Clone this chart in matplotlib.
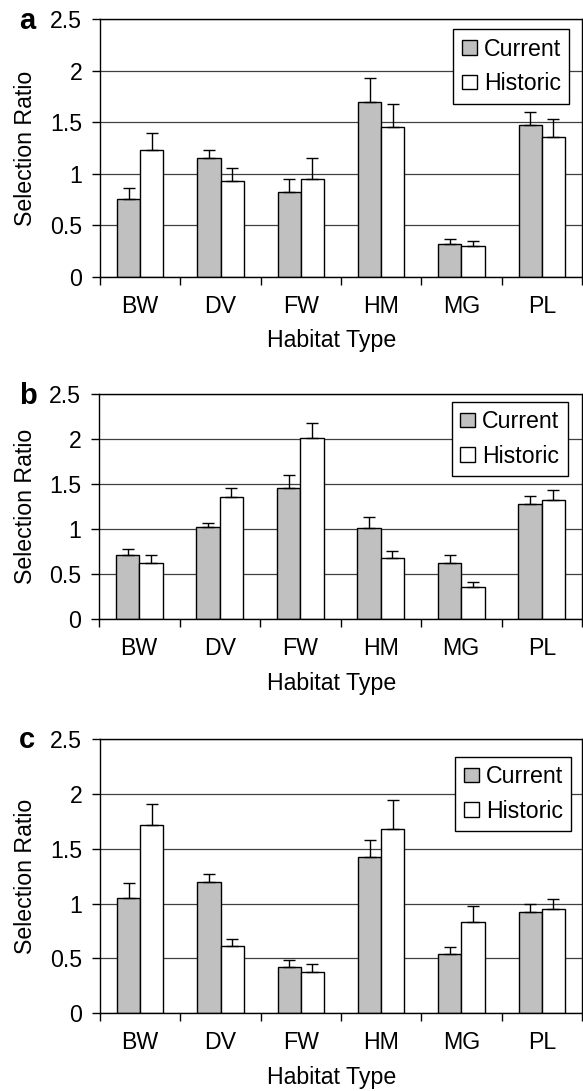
import matplotlib
matplotlib.use('Agg')
import matplotlib.pyplot as plt
import numpy as np

plt.rcParams['font.family'] = ['Liberation Sans', 'DejaVu Sans']

# Data
categories = ['BW', 'DV', 'FW', 'HM', 'MG', 'PL']
y_ticks = [0, 0.5, 1, 1.5, 2, 2.5]
y_tick_labels = ['0', '0.5', '1', '1.5', '2', '2.5']

a_current = [0.76, 1.15, 0.82, 1.70, 0.32, 1.47]
a_current_err = [0.10, 0.08, 0.13, 0.23, 0.05, 0.13]
a_historic = [1.23, 0.93, 0.95, 1.46, 0.30, 1.36]
a_historic_err = [0.17, 0.13, 0.20, 0.22, 0.05, 0.17]

b_current = [0.71, 1.03, 1.46, 1.01, 0.63, 1.28]
b_current_err = [0.07, 0.04, 0.14, 0.13, 0.08, 0.09]
b_historic = [0.63, 1.36, 2.01, 0.68, 0.36, 1.33]
b_historic_err = [0.08, 0.10, 0.17, 0.08, 0.05, 0.11]

c_current = [1.05, 1.20, 0.42, 1.42, 0.54, 0.92]
c_current_err = [0.14, 0.07, 0.07, 0.16, 0.06, 0.08]
c_historic = [1.72, 0.61, 0.38, 1.68, 0.83, 0.95]
c_historic_err = [0.19, 0.07, 0.07, 0.26, 0.15, 0.09]

W, H = 583, 1091
fig = plt.figure(figsize=(W / 100, H / 100), dpi=100)

# panel letter, data, axes box in pixels (left, top, right, bottom), legend anchor
panels = [
    ('a', a_current, a_current_err, a_historic, a_historic_err, (100, 19.3, 582, 277), (0.974, 0.961)),
    ('b', b_current, b_current_err, b_historic, b_historic_err, (99, 394.3, 582, 619.3), (0.970, 0.966)),
    ('c', c_current, c_current_err, c_historic, c_historic_err, (100, 739, 582, 1013.3), (0.978, 0.935)),
]

fs = 16.7
x = np.arange(len(categories))
bw = 0.29

for letter, cur, cur_err, hist, hist_err, box, leg_anchor in panels:
    l, t, r, b = box
    ax = fig.add_axes([l / W, 1 - b / H, (r - l) / W, (b - t) / H])

    ax.set_axisbelow(True)
    ax.yaxis.grid(True, color='0.25', linewidth=0.9)

    ax.bar(x - bw / 2, cur, bw, color='#c0c0c0', edgecolor='black', linewidth=1.0,
           label='Current', zorder=2)
    ax.bar(x + bw / 2, hist, bw, color='white', edgecolor='black', linewidth=1.0,
           label='Historic', zorder=2)
    ax.errorbar(x - bw / 2, cur, yerr=[np.zeros(len(cur)), cur_err], fmt='none',
                ecolor='black', elinewidth=1.0, capsize=4, capthick=1.0, zorder=3)
    ax.errorbar(x + bw / 2, hist, yerr=[np.zeros(len(hist)), hist_err], fmt='none',
                ecolor='black', elinewidth=1.0, capsize=4, capthick=1.0, zorder=3)

    ax.set_xlim(-0.5, len(categories) - 0.5)
    ax.set_ylim(0, 2.5)
    ax.set_yticks(y_ticks)
    ax.set_yticklabels(y_tick_labels, fontsize=fs)
    ax.tick_params(axis='y', direction='out', length=5.8, width=1.0, pad=7)

    ax.set_xticks(x)
    ax.set_xticklabels(categories, fontsize=fs)
    ax.tick_params(axis='x', which='major', length=0, pad=13)
    ax.set_xticks(np.arange(-0.5, len(categories)), minor=True)
    ax.tick_params(axis='x', which='minor', direction='out', length=5.5, width=1.0)

    for s in ax.spines.values():
        s.set_linewidth(1.0)
        s.set_color('black')

    leg = ax.legend(loc='upper right', bbox_to_anchor=leg_anchor, borderaxespad=0,
                    fontsize=fs, frameon=True, fancybox=False, framealpha=1,
                    edgecolor='black', handlelength=0.64, handleheight=0.58,
                    handletextpad=0.31, labelspacing=0.5, borderpad=0.36)
    leg.get_frame().set_linewidth(1.0)

    # axis titles and panel letter
    fig.text(332 / W, 1 - (b + 64) / H, 'Habitat Type', ha='center', va='center', fontsize=fs)
    fig.text(26 / W, 1 - ((t + b) / 2) / H, 'Selection Ratio', ha='center', va='center',
             rotation=90, fontsize=fs)
    fig.text(19 / W, 1 - (t + 9.5) / H, letter, ha='left', va='baseline',
             fontsize=21, fontweight='bold')

plt.savefig('out.png', dpi=100)
plt.close()
